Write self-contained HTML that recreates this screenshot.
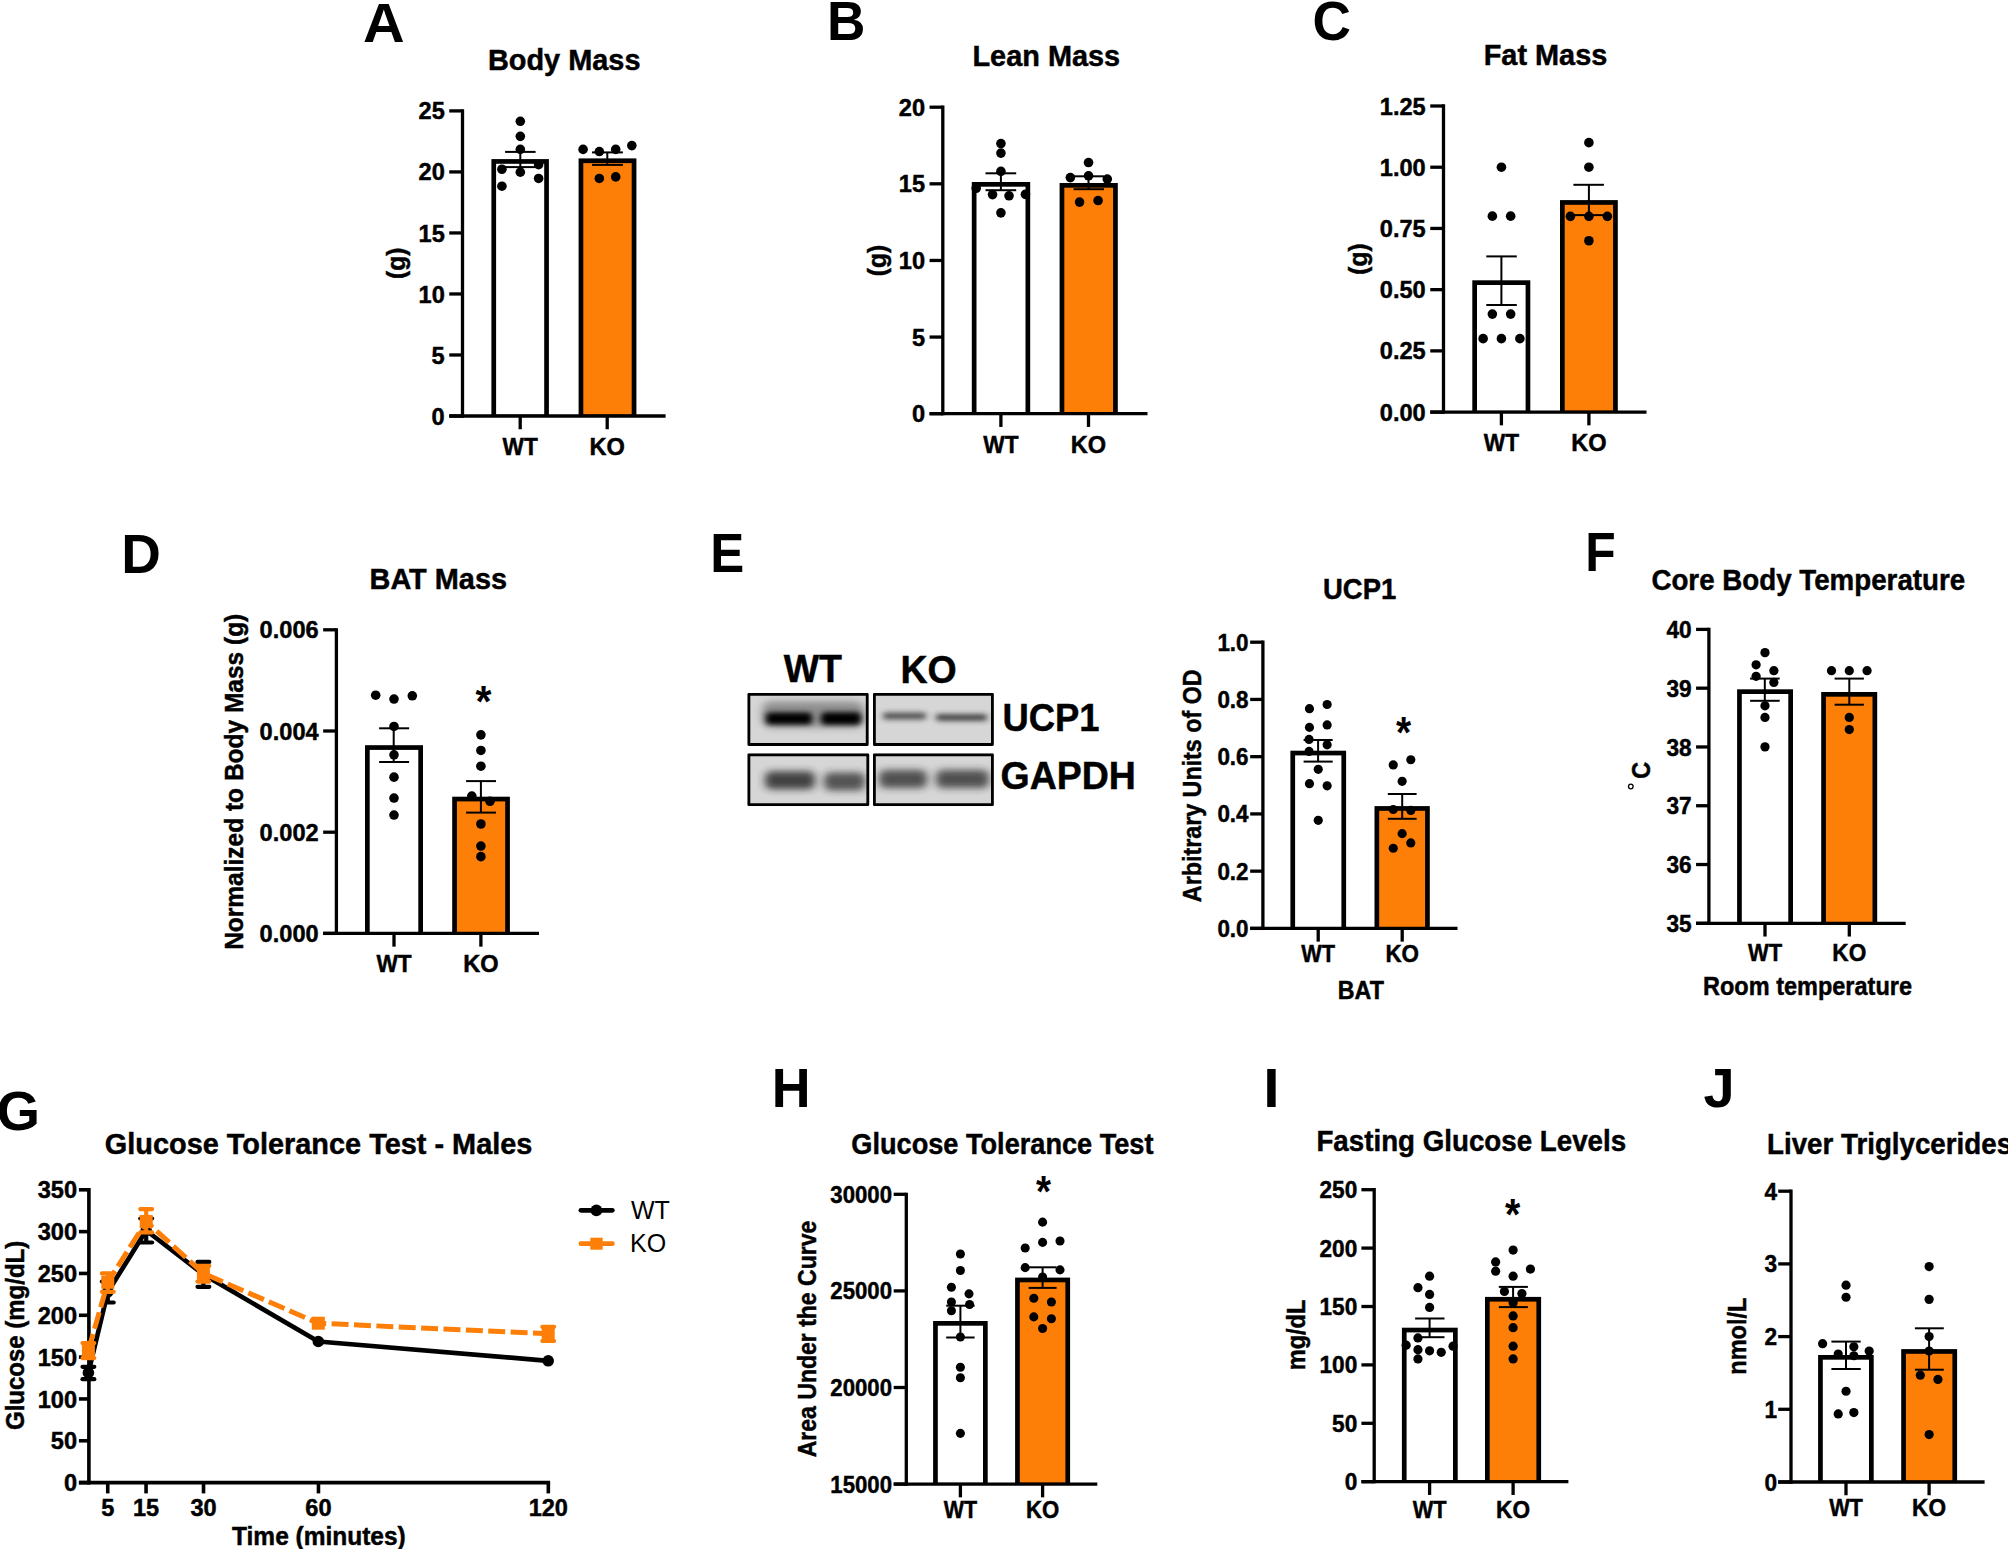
<!DOCTYPE html>
<html lang="en"><head><meta charset="utf-8"><title>Figure</title>
<style>html,body{margin:0;padding:0;background:#fff}svg{display:block}text{font-family:"Liberation Sans", Arial, Helvetica, sans-serif;fill:#000}</style>
</head><body>
<svg width="2008" height="1549" viewBox="0 0 2008 1549">
<rect width="2008" height="1549" fill="#fff"/>
<defs>
<filter id="bl" x="-30%" y="-100%" width="160%" height="300%"><feGaussianBlur stdDeviation="3 2.4"/></filter>
<filter id="bl2" x="-30%" y="-100%" width="160%" height="300%"><feGaussianBlur stdDeviation="2.6 1.5"/></filter>
<filter id="bl3" x="-30%" y="-100%" width="160%" height="300%"><feGaussianBlur stdDeviation="4 3.6"/></filter>
<clipPath id="cp0"><rect x="747.5" y="693" width="121.1" height="52.9"/></clipPath>
<clipPath id="cp1"><rect x="873" y="693" width="120.8" height="52.9"/></clipPath>
<clipPath id="cp2"><rect x="747.5" y="753.4" width="121.7" height="52.7"/></clipPath>
<clipPath id="cp3"><rect x="873" y="753.4" width="120.8" height="52.7"/></clipPath>
</defs>
<g>
<rect x="491.4" y="159.1" width="57.5" height="256.9" fill="#000"/>
<rect x="496.1" y="163.8" width="48.1" height="250.85" fill="#fff"/>
<rect x="578.6" y="158.4" width="57.8" height="257.6" fill="#000"/>
<rect x="583.3" y="163.1" width="48.4" height="251.55" fill="#FD7F08"/>
<line x1="462.5" y1="109.25" x2="462.5" y2="417.65" stroke="#000" stroke-width="3.3" stroke-linecap="butt"/>
<line x1="449.25" y1="416" x2="665.6" y2="416" stroke="#000" stroke-width="3.3" stroke-linecap="butt"/>
<line x1="449.25" y1="110.9" x2="462.5" y2="110.9" stroke="#000" stroke-width="3.3" stroke-linecap="butt"/>
<text transform="translate(444.75 119.47) scale(1 1.04)" font-size="23.6" text-anchor="end" font-weight="bold" stroke="#000" stroke-width="0.45">25</text>
<line x1="449.25" y1="171.92" x2="462.5" y2="171.92" stroke="#000" stroke-width="3.3" stroke-linecap="butt"/>
<text transform="translate(444.75 180.49) scale(1 1.04)" font-size="23.6" text-anchor="end" font-weight="bold" stroke="#000" stroke-width="0.45">20</text>
<line x1="449.25" y1="232.94" x2="462.5" y2="232.94" stroke="#000" stroke-width="3.3" stroke-linecap="butt"/>
<text transform="translate(444.75 241.51) scale(1 1.04)" font-size="23.6" text-anchor="end" font-weight="bold" stroke="#000" stroke-width="0.45">15</text>
<line x1="449.25" y1="293.96" x2="462.5" y2="293.96" stroke="#000" stroke-width="3.3" stroke-linecap="butt"/>
<text transform="translate(444.75 302.53) scale(1 1.04)" font-size="23.6" text-anchor="end" font-weight="bold" stroke="#000" stroke-width="0.45">10</text>
<line x1="449.25" y1="354.98" x2="462.5" y2="354.98" stroke="#000" stroke-width="3.3" stroke-linecap="butt"/>
<text transform="translate(444.75 363.55) scale(1 1.04)" font-size="23.6" text-anchor="end" font-weight="bold" stroke="#000" stroke-width="0.45">5</text>
<line x1="449.25" y1="416" x2="462.5" y2="416" stroke="#000" stroke-width="3.3" stroke-linecap="butt"/>
<text transform="translate(444.75 424.57) scale(1 1.04)" font-size="23.6" text-anchor="end" font-weight="bold" stroke="#000" stroke-width="0.45">0</text>
<line x1="520.2" y1="416" x2="520.2" y2="429.25" stroke="#000" stroke-width="3.3" stroke-linecap="butt"/>
<text transform="translate(520.2 454.8) scale(0.96 1.04)" font-size="23.6" text-anchor="middle" font-weight="bold" stroke="#000" stroke-width="0.45">WT</text>
<line x1="607.2" y1="416" x2="607.2" y2="429.25" stroke="#000" stroke-width="3.3" stroke-linecap="butt"/>
<text transform="translate(607.2 454.8) scale(1 1.04)" font-size="23.6" text-anchor="middle" font-weight="bold" stroke="#000" stroke-width="0.45">KO</text>
<line x1="520.3" y1="151.9" x2="520.3" y2="167.1" stroke="#000" stroke-width="2" stroke-linecap="butt"/>
<line x1="505.1" y1="151.9" x2="535.6" y2="151.9" stroke="#000" stroke-width="2" stroke-linecap="butt"/>
<line x1="505.1" y1="167.1" x2="535.6" y2="167.1" stroke="#000" stroke-width="2" stroke-linecap="butt"/>
<line x1="607.3" y1="152.4" x2="607.3" y2="164.9" stroke="#000" stroke-width="2" stroke-linecap="butt"/>
<line x1="592" y1="152.4" x2="622.9" y2="152.4" stroke="#000" stroke-width="2" stroke-linecap="butt"/>
<line x1="592" y1="164.9" x2="622.9" y2="164.9" stroke="#000" stroke-width="2" stroke-linecap="butt"/>
<circle cx="520.32" cy="121.31" r="4.8" fill="#000"/>
<circle cx="520.32" cy="136.37" r="4.8" fill="#000"/>
<circle cx="520.32" cy="149.4" r="4.8" fill="#000"/>
<circle cx="501.91" cy="169.24" r="4.8" fill="#000"/>
<circle cx="520.32" cy="172.23" r="4.8" fill="#000"/>
<circle cx="538.61" cy="164.7" r="4.8" fill="#000"/>
<circle cx="538.61" cy="178.45" r="4.8" fill="#000"/>
<circle cx="501.91" cy="186.21" r="4.8" fill="#000"/>
<circle cx="583.07" cy="149.4" r="4.8" fill="#000"/>
<circle cx="599.32" cy="151.55" r="4.8" fill="#000"/>
<circle cx="615.7" cy="149.4" r="4.8" fill="#000"/>
<circle cx="631.83" cy="145.58" r="4.8" fill="#000"/>
<circle cx="599.32" cy="178.45" r="4.8" fill="#000"/>
<circle cx="615.7" cy="176.89" r="4.8" fill="#000"/>
<text transform="translate(564.2 69.8) scale(1 1.04)" font-size="28.9" text-anchor="middle" font-weight="bold" stroke="#000" stroke-width="0.45">Body Mass</text>
<text transform="translate(405.3 263.3) rotate(-90) scale(1 1.04)" font-size="24.5" text-anchor="middle" font-weight="bold" stroke="#000" stroke-width="0.45">(g)</text>
<text transform="translate(363.1 42.2) scale(1.03 1)" font-size="56" font-weight="bold">A</text>
</g>
<g>
<rect x="971.8" y="182" width="58.4" height="231.7" fill="#000"/>
<rect x="976.5" y="186.7" width="49" height="225.65" fill="#fff"/>
<rect x="1059.6" y="183" width="58.2" height="230.7" fill="#000"/>
<rect x="1064.3" y="187.7" width="48.8" height="224.65" fill="#FD7F08"/>
<line x1="942.8" y1="105.55" x2="942.8" y2="415.35" stroke="#000" stroke-width="3.3" stroke-linecap="butt"/>
<line x1="929.55" y1="413.7" x2="1147.5" y2="413.7" stroke="#000" stroke-width="3.3" stroke-linecap="butt"/>
<line x1="929.55" y1="107.2" x2="942.8" y2="107.2" stroke="#000" stroke-width="3.3" stroke-linecap="butt"/>
<text transform="translate(925.05 115.77) scale(1 1.04)" font-size="23.6" text-anchor="end" font-weight="bold" stroke="#000" stroke-width="0.45">20</text>
<line x1="929.55" y1="183.82" x2="942.8" y2="183.82" stroke="#000" stroke-width="3.3" stroke-linecap="butt"/>
<text transform="translate(925.05 192.39) scale(1 1.04)" font-size="23.6" text-anchor="end" font-weight="bold" stroke="#000" stroke-width="0.45">15</text>
<line x1="929.55" y1="260.45" x2="942.8" y2="260.45" stroke="#000" stroke-width="3.3" stroke-linecap="butt"/>
<text transform="translate(925.05 269.02) scale(1 1.04)" font-size="23.6" text-anchor="end" font-weight="bold" stroke="#000" stroke-width="0.45">10</text>
<line x1="929.55" y1="337.07" x2="942.8" y2="337.07" stroke="#000" stroke-width="3.3" stroke-linecap="butt"/>
<text transform="translate(925.05 345.64) scale(1 1.04)" font-size="23.6" text-anchor="end" font-weight="bold" stroke="#000" stroke-width="0.45">5</text>
<line x1="929.55" y1="413.7" x2="942.8" y2="413.7" stroke="#000" stroke-width="3.3" stroke-linecap="butt"/>
<text transform="translate(925.05 422.27) scale(1 1.04)" font-size="23.6" text-anchor="end" font-weight="bold" stroke="#000" stroke-width="0.45">0</text>
<line x1="1000.9" y1="413.7" x2="1000.9" y2="426.95" stroke="#000" stroke-width="3.3" stroke-linecap="butt"/>
<text transform="translate(1000.9 452.5) scale(0.96 1.04)" font-size="23.6" text-anchor="middle" font-weight="bold" stroke="#000" stroke-width="0.45">WT</text>
<line x1="1088.5" y1="413.7" x2="1088.5" y2="426.95" stroke="#000" stroke-width="3.3" stroke-linecap="butt"/>
<text transform="translate(1088.5 452.5) scale(1 1.04)" font-size="23.6" text-anchor="middle" font-weight="bold" stroke="#000" stroke-width="0.45">KO</text>
<line x1="1000.9" y1="173.3" x2="1000.9" y2="190.2" stroke="#000" stroke-width="2" stroke-linecap="butt"/>
<line x1="985.5" y1="173.3" x2="1016.2" y2="173.3" stroke="#000" stroke-width="2" stroke-linecap="butt"/>
<line x1="985.5" y1="190.2" x2="1016.2" y2="190.2" stroke="#000" stroke-width="2" stroke-linecap="butt"/>
<line x1="1088.5" y1="176.3" x2="1088.5" y2="189.2" stroke="#000" stroke-width="2" stroke-linecap="butt"/>
<line x1="1073.6" y1="176.3" x2="1104" y2="176.3" stroke="#000" stroke-width="2" stroke-linecap="butt"/>
<line x1="1073.6" y1="189.2" x2="1104" y2="189.2" stroke="#000" stroke-width="2" stroke-linecap="butt"/>
<circle cx="1000.92" cy="143.55" r="4.8" fill="#000"/>
<circle cx="1000.92" cy="153.11" r="4.8" fill="#000"/>
<circle cx="1000.92" cy="171.27" r="4.8" fill="#000"/>
<circle cx="976.18" cy="188.25" r="4.8" fill="#000"/>
<circle cx="992.55" cy="194.58" r="4.8" fill="#000"/>
<circle cx="1009.04" cy="195.78" r="4.8" fill="#000"/>
<circle cx="1025.42" cy="194.34" r="4.8" fill="#000"/>
<circle cx="1000.92" cy="212.87" r="4.8" fill="#000"/>
<circle cx="1070.36" cy="177.61" r="4.8" fill="#000"/>
<circle cx="1088.53" cy="175.82" r="4.8" fill="#000"/>
<circle cx="1107.29" cy="179.04" r="4.8" fill="#000"/>
<circle cx="1088.53" cy="162.55" r="4.8" fill="#000"/>
<circle cx="1079.56" cy="202.11" r="4.8" fill="#000"/>
<circle cx="1098.09" cy="200.56" r="4.8" fill="#000"/>
<text transform="translate(1046.3 65.8) scale(1 1.04)" font-size="28.9" text-anchor="middle" font-weight="bold" stroke="#000" stroke-width="0.45">Lean Mass</text>
<text transform="translate(885.8 260.5) rotate(-90) scale(1 1.04)" font-size="24.5" text-anchor="middle" font-weight="bold" stroke="#000" stroke-width="0.45">(g)</text>
<text transform="translate(826.9 39.8) scale(0.95 1)" font-size="56" font-weight="bold">B</text>
</g>
<g>
<rect x="1472.3" y="280.3" width="58" height="131.8" fill="#000"/>
<rect x="1477" y="285" width="48.6" height="125.75" fill="#fff"/>
<rect x="1560" y="200.1" width="57.8" height="212" fill="#000"/>
<rect x="1564.7" y="204.8" width="48.4" height="205.95" fill="#FD7F08"/>
<line x1="1443.5" y1="104.35" x2="1443.5" y2="413.75" stroke="#000" stroke-width="3.3" stroke-linecap="butt"/>
<line x1="1430.25" y1="412.1" x2="1646.5" y2="412.1" stroke="#000" stroke-width="3.3" stroke-linecap="butt"/>
<line x1="1430.25" y1="106" x2="1443.5" y2="106" stroke="#000" stroke-width="3.3" stroke-linecap="butt"/>
<text transform="translate(1425.75 114.57) scale(1 1.04)" font-size="23.6" text-anchor="end" font-weight="bold" stroke="#000" stroke-width="0.45">1.25</text>
<line x1="1430.25" y1="167.22" x2="1443.5" y2="167.22" stroke="#000" stroke-width="3.3" stroke-linecap="butt"/>
<text transform="translate(1425.75 175.79) scale(1 1.04)" font-size="23.6" text-anchor="end" font-weight="bold" stroke="#000" stroke-width="0.45">1.00</text>
<line x1="1430.25" y1="228.44" x2="1443.5" y2="228.44" stroke="#000" stroke-width="3.3" stroke-linecap="butt"/>
<text transform="translate(1425.75 237.01) scale(1 1.04)" font-size="23.6" text-anchor="end" font-weight="bold" stroke="#000" stroke-width="0.45">0.75</text>
<line x1="1430.25" y1="289.66" x2="1443.5" y2="289.66" stroke="#000" stroke-width="3.3" stroke-linecap="butt"/>
<text transform="translate(1425.75 298.23) scale(1 1.04)" font-size="23.6" text-anchor="end" font-weight="bold" stroke="#000" stroke-width="0.45">0.50</text>
<line x1="1430.25" y1="350.88" x2="1443.5" y2="350.88" stroke="#000" stroke-width="3.3" stroke-linecap="butt"/>
<text transform="translate(1425.75 359.45) scale(1 1.04)" font-size="23.6" text-anchor="end" font-weight="bold" stroke="#000" stroke-width="0.45">0.25</text>
<line x1="1430.25" y1="412.1" x2="1443.5" y2="412.1" stroke="#000" stroke-width="3.3" stroke-linecap="butt"/>
<text transform="translate(1425.75 420.67) scale(1 1.04)" font-size="23.6" text-anchor="end" font-weight="bold" stroke="#000" stroke-width="0.45">0.00</text>
<line x1="1501.4" y1="412.1" x2="1501.4" y2="425.35" stroke="#000" stroke-width="3.3" stroke-linecap="butt"/>
<text transform="translate(1501.4 451) scale(0.96 1.04)" font-size="23.6" text-anchor="middle" font-weight="bold" stroke="#000" stroke-width="0.45">WT</text>
<line x1="1588.9" y1="412.1" x2="1588.9" y2="425.35" stroke="#000" stroke-width="3.3" stroke-linecap="butt"/>
<text transform="translate(1588.9 451) scale(1 1.04)" font-size="23.6" text-anchor="middle" font-weight="bold" stroke="#000" stroke-width="0.45">KO</text>
<line x1="1501.4" y1="256.4" x2="1501.4" y2="305" stroke="#000" stroke-width="2" stroke-linecap="butt"/>
<line x1="1486.3" y1="256.4" x2="1516.8" y2="256.4" stroke="#000" stroke-width="2" stroke-linecap="butt"/>
<line x1="1486.3" y1="305" x2="1516.8" y2="305" stroke="#000" stroke-width="2" stroke-linecap="butt"/>
<line x1="1588.9" y1="184.8" x2="1588.9" y2="215.1" stroke="#000" stroke-width="2" stroke-linecap="butt"/>
<line x1="1573.4" y1="184.8" x2="1603.9" y2="184.8" stroke="#000" stroke-width="2" stroke-linecap="butt"/>
<line x1="1573.4" y1="215.1" x2="1603.9" y2="215.1" stroke="#000" stroke-width="2" stroke-linecap="butt"/>
<circle cx="1501.42" cy="167.2" r="4.8" fill="#000"/>
<circle cx="1492.36" cy="216.17" r="4.8" fill="#000"/>
<circle cx="1510.66" cy="216.17" r="4.8" fill="#000"/>
<circle cx="1492.36" cy="314.1" r="4.8" fill="#000"/>
<circle cx="1510.66" cy="314.1" r="4.8" fill="#000"/>
<circle cx="1483.12" cy="338.67" r="4.8" fill="#000"/>
<circle cx="1501.42" cy="338.67" r="4.8" fill="#000"/>
<circle cx="1519.89" cy="338.67" r="4.8" fill="#000"/>
<circle cx="1588.9" cy="142.63" r="4.8" fill="#000"/>
<circle cx="1588.9" cy="167.2" r="4.8" fill="#000"/>
<circle cx="1570.43" cy="216.34" r="4.8" fill="#000"/>
<circle cx="1588.9" cy="216.34" r="4.8" fill="#000"/>
<circle cx="1607.37" cy="216.34" r="4.8" fill="#000"/>
<circle cx="1588.9" cy="240.74" r="4.8" fill="#000"/>
<text transform="translate(1545.5 65.3) scale(1 1.04)" font-size="28.9" text-anchor="middle" font-weight="bold" stroke="#000" stroke-width="0.45">Fat Mass</text>
<text transform="translate(1367.3 259) rotate(-90) scale(1 1.04)" font-size="24.5" text-anchor="middle" font-weight="bold" stroke="#000" stroke-width="0.45">(g)</text>
<text transform="translate(1312.6 39.7) scale(0.95 1)" font-size="56" font-weight="bold">C</text>
</g>
<g>
<rect x="365" y="745.2" width="58" height="188.2" fill="#000"/>
<rect x="369.7" y="749.9" width="48.6" height="182.15" fill="#fff"/>
<rect x="452.2" y="796.7" width="57.7" height="136.7" fill="#000"/>
<rect x="456.9" y="801.4" width="48.3" height="130.65" fill="#FD7F08"/>
<line x1="336.4" y1="628.15" x2="336.4" y2="935.05" stroke="#000" stroke-width="3.3" stroke-linecap="butt"/>
<line x1="323.15" y1="933.4" x2="539" y2="933.4" stroke="#000" stroke-width="3.3" stroke-linecap="butt"/>
<line x1="323.15" y1="629.8" x2="336.4" y2="629.8" stroke="#000" stroke-width="3.3" stroke-linecap="butt"/>
<text transform="translate(318.65 638.37) scale(1 1.04)" font-size="23.6" text-anchor="end" font-weight="bold" stroke="#000" stroke-width="0.45">0.006</text>
<line x1="323.15" y1="731" x2="336.4" y2="731" stroke="#000" stroke-width="3.3" stroke-linecap="butt"/>
<text transform="translate(318.65 739.57) scale(1 1.04)" font-size="23.6" text-anchor="end" font-weight="bold" stroke="#000" stroke-width="0.45">0.004</text>
<line x1="323.15" y1="832.2" x2="336.4" y2="832.2" stroke="#000" stroke-width="3.3" stroke-linecap="butt"/>
<text transform="translate(318.65 840.77) scale(1 1.04)" font-size="23.6" text-anchor="end" font-weight="bold" stroke="#000" stroke-width="0.45">0.002</text>
<line x1="323.15" y1="933.4" x2="336.4" y2="933.4" stroke="#000" stroke-width="3.3" stroke-linecap="butt"/>
<text transform="translate(318.65 941.97) scale(1 1.04)" font-size="23.6" text-anchor="end" font-weight="bold" stroke="#000" stroke-width="0.45">0.000</text>
<line x1="394" y1="933.4" x2="394" y2="946.65" stroke="#000" stroke-width="3.3" stroke-linecap="butt"/>
<text transform="translate(394 972.3) scale(0.96 1.04)" font-size="23.6" text-anchor="middle" font-weight="bold" stroke="#000" stroke-width="0.45">WT</text>
<line x1="480.9" y1="933.4" x2="480.9" y2="946.65" stroke="#000" stroke-width="3.3" stroke-linecap="butt"/>
<text transform="translate(480.9 972.3) scale(1 1.04)" font-size="23.6" text-anchor="middle" font-weight="bold" stroke="#000" stroke-width="0.45">KO</text>
<line x1="393.7" y1="728.3" x2="393.7" y2="762" stroke="#000" stroke-width="2" stroke-linecap="butt"/>
<line x1="379.1" y1="728.3" x2="409.1" y2="728.3" stroke="#000" stroke-width="2" stroke-linecap="butt"/>
<line x1="379.1" y1="762" x2="409.1" y2="762" stroke="#000" stroke-width="2" stroke-linecap="butt"/>
<line x1="480.9" y1="781.1" x2="480.9" y2="812.6" stroke="#000" stroke-width="2" stroke-linecap="butt"/>
<line x1="466.1" y1="781.1" x2="496" y2="781.1" stroke="#000" stroke-width="2" stroke-linecap="butt"/>
<line x1="466.1" y1="812.6" x2="496" y2="812.6" stroke="#000" stroke-width="2" stroke-linecap="butt"/>
<circle cx="375.69" cy="695.22" r="4.8" fill="#000"/>
<circle cx="394" cy="699.05" r="4.8" fill="#000"/>
<circle cx="412.32" cy="695.78" r="4.8" fill="#000"/>
<circle cx="394" cy="726.46" r="4.8" fill="#000"/>
<circle cx="394" cy="754.86" r="4.8" fill="#000"/>
<circle cx="394" cy="777.15" r="4.8" fill="#000"/>
<circle cx="394" cy="798.02" r="4.8" fill="#000"/>
<circle cx="394" cy="815.06" r="4.8" fill="#000"/>
<circle cx="480.91" cy="734.83" r="4.8" fill="#000"/>
<circle cx="480.91" cy="750.45" r="4.8" fill="#000"/>
<circle cx="480.91" cy="766.22" r="4.8" fill="#000"/>
<circle cx="471.82" cy="796.04" r="4.8" fill="#000"/>
<circle cx="489.99" cy="801.29" r="4.8" fill="#000"/>
<circle cx="480.91" cy="824.01" r="4.8" fill="#000"/>
<circle cx="480.91" cy="846.02" r="4.8" fill="#000"/>
<circle cx="480.91" cy="856.67" r="4.8" fill="#000"/>
<text transform="translate(438.3 589.2) scale(1 1.04)" font-size="28.9" text-anchor="middle" font-weight="bold" stroke="#000" stroke-width="0.45">BAT Mass</text>
<text transform="translate(242.6 781.8) rotate(-90) scale(1 1.04)" font-size="24.5" text-anchor="middle" font-weight="bold" stroke="#000" stroke-width="0.45">Normalized to Body Mass (g)</text>
<text transform="translate(483.5 717.4) scale(1 1.09)" font-size="41" text-anchor="middle" font-weight="bold" font-family='"Liberation Serif", "Times New Roman", serif'>*</text>
<text transform="translate(121.2 573.4) scale(0.98 1)" font-size="56" font-weight="bold">D</text>
</g>
<g>
<rect x="1290.4" y="750.7" width="55.7" height="177.7" fill="#000"/>
<rect x="1295.1" y="755.4" width="46.3" height="171.65" fill="#fff"/>
<rect x="1374.5" y="806.1" width="55.3" height="122.3" fill="#000"/>
<rect x="1379.2" y="810.8" width="45.9" height="116.25" fill="#FD7F08"/>
<line x1="1262.9" y1="640.55" x2="1262.9" y2="930.05" stroke="#000" stroke-width="3.3" stroke-linecap="butt"/>
<line x1="1250.17" y1="928.4" x2="1457.5" y2="928.4" stroke="#000" stroke-width="3.3" stroke-linecap="butt"/>
<line x1="1250.17" y1="642.2" x2="1262.9" y2="642.2" stroke="#000" stroke-width="3.3" stroke-linecap="butt"/>
<text transform="translate(1248.57 650.77) scale(0.95 1.04)" font-size="23.6" text-anchor="end" font-weight="bold" stroke="#000" stroke-width="0.45">1.0</text>
<line x1="1250.17" y1="699.44" x2="1262.9" y2="699.44" stroke="#000" stroke-width="3.3" stroke-linecap="butt"/>
<text transform="translate(1248.57 708.01) scale(0.95 1.04)" font-size="23.6" text-anchor="end" font-weight="bold" stroke="#000" stroke-width="0.45">0.8</text>
<line x1="1250.17" y1="756.68" x2="1262.9" y2="756.68" stroke="#000" stroke-width="3.3" stroke-linecap="butt"/>
<text transform="translate(1248.57 765.25) scale(0.95 1.04)" font-size="23.6" text-anchor="end" font-weight="bold" stroke="#000" stroke-width="0.45">0.6</text>
<line x1="1250.17" y1="813.92" x2="1262.9" y2="813.92" stroke="#000" stroke-width="3.3" stroke-linecap="butt"/>
<text transform="translate(1248.57 822.49) scale(0.95 1.04)" font-size="23.6" text-anchor="end" font-weight="bold" stroke="#000" stroke-width="0.45">0.4</text>
<line x1="1250.17" y1="871.16" x2="1262.9" y2="871.16" stroke="#000" stroke-width="3.3" stroke-linecap="butt"/>
<text transform="translate(1248.57 879.73) scale(0.95 1.04)" font-size="23.6" text-anchor="end" font-weight="bold" stroke="#000" stroke-width="0.45">0.2</text>
<line x1="1250.17" y1="928.4" x2="1262.9" y2="928.4" stroke="#000" stroke-width="3.3" stroke-linecap="butt"/>
<text transform="translate(1248.57 936.97) scale(0.95 1.04)" font-size="23.6" text-anchor="end" font-weight="bold" stroke="#000" stroke-width="0.45">0.0</text>
<line x1="1318.2" y1="928.4" x2="1318.2" y2="941.65" stroke="#000" stroke-width="3.3" stroke-linecap="butt"/>
<text transform="translate(1318.2 961.6) scale(0.92 1.04)" font-size="23.6" text-anchor="middle" font-weight="bold" stroke="#000" stroke-width="0.45">WT</text>
<line x1="1402.2" y1="928.4" x2="1402.2" y2="941.65" stroke="#000" stroke-width="3.3" stroke-linecap="butt"/>
<text transform="translate(1402.2 961.6) scale(0.95 1.04)" font-size="23.6" text-anchor="middle" font-weight="bold" stroke="#000" stroke-width="0.45">KO</text>
<line x1="1318.1" y1="740" x2="1318.1" y2="761.6" stroke="#000" stroke-width="2" stroke-linecap="butt"/>
<line x1="1303.6" y1="740" x2="1332.7" y2="740" stroke="#000" stroke-width="2" stroke-linecap="butt"/>
<line x1="1303.6" y1="761.6" x2="1332.7" y2="761.6" stroke="#000" stroke-width="2" stroke-linecap="butt"/>
<line x1="1402.2" y1="794" x2="1402.2" y2="818.8" stroke="#000" stroke-width="2" stroke-linecap="butt"/>
<line x1="1387.8" y1="794" x2="1416.6" y2="794" stroke="#000" stroke-width="2" stroke-linecap="butt"/>
<line x1="1387.8" y1="818.8" x2="1416.6" y2="818.8" stroke="#000" stroke-width="2" stroke-linecap="butt"/>
<circle cx="1309.46" cy="708.66" r="4.58" fill="#000"/>
<circle cx="1327.14" cy="704.53" r="4.58" fill="#000"/>
<circle cx="1309.46" cy="727.38" r="4.58" fill="#000"/>
<circle cx="1327.14" cy="724.93" r="4.58" fill="#000"/>
<circle cx="1309.07" cy="739.39" r="4.58" fill="#000"/>
<circle cx="1327.14" cy="744.81" r="4.58" fill="#000"/>
<circle cx="1309.07" cy="751.39" r="4.58" fill="#000"/>
<circle cx="1318.24" cy="769.34" r="4.58" fill="#000"/>
<circle cx="1309.46" cy="783.67" r="4.58" fill="#000"/>
<circle cx="1327.14" cy="785.86" r="4.58" fill="#000"/>
<circle cx="1318.24" cy="820.33" r="4.58" fill="#000"/>
<circle cx="1393.24" cy="764.95" r="4.58" fill="#000"/>
<circle cx="1410.8" cy="759.79" r="4.58" fill="#000"/>
<circle cx="1402.15" cy="781.35" r="4.58" fill="#000"/>
<circle cx="1393.24" cy="809.49" r="4.58" fill="#000"/>
<circle cx="1410.8" cy="810.39" r="4.58" fill="#000"/>
<circle cx="1402.15" cy="833.63" r="4.58" fill="#000"/>
<circle cx="1410.8" cy="842.93" r="4.58" fill="#000"/>
<circle cx="1393.24" cy="848.22" r="4.58" fill="#000"/>
<text transform="translate(1359.6 598.6) scale(0.95 1.04)" font-size="28.9" text-anchor="middle" font-weight="bold" stroke="#000" stroke-width="0.45">UCP1</text>
<text transform="translate(1201 785.8) rotate(-90) scale(0.95 1.04)" font-size="24.5" text-anchor="middle" font-weight="bold" stroke="#000" stroke-width="0.45">Arbitrary Units of OD</text>
<text transform="translate(1360.8 999) scale(0.95 1.04)" font-size="24.5" text-anchor="middle" font-weight="bold" stroke="#000" stroke-width="0.45">BAT</text>
<text transform="translate(1403.7 748.2) scale(0.95 1.09)" font-size="41" text-anchor="middle" font-weight="bold" font-family='"Liberation Serif", "Times New Roman", serif'>*</text>
<text transform="translate(710.3 572.2) scale(0.91 1)" font-size="56" font-weight="bold">E</text>
</g>
<g>
<rect x="1737.1" y="689.3" width="55.9" height="234" fill="#000"/>
<rect x="1741.8" y="694" width="46.5" height="227.95" fill="#fff"/>
<rect x="1821.2" y="692" width="56" height="231.3" fill="#000"/>
<rect x="1825.9" y="696.7" width="46.6" height="225.25" fill="#FD7F08"/>
<line x1="1708.9" y1="627.75" x2="1708.9" y2="924.95" stroke="#000" stroke-width="3.3" stroke-linecap="butt"/>
<line x1="1696.06" y1="923.3" x2="1905.7" y2="923.3" stroke="#000" stroke-width="3.3" stroke-linecap="butt"/>
<line x1="1696.06" y1="629.4" x2="1708.9" y2="629.4" stroke="#000" stroke-width="3.3" stroke-linecap="butt"/>
<text transform="translate(1691.66 637.97) scale(0.96 1.04)" font-size="23.6" text-anchor="end" font-weight="bold" stroke="#000" stroke-width="0.45">40</text>
<line x1="1696.06" y1="688.18" x2="1708.9" y2="688.18" stroke="#000" stroke-width="3.3" stroke-linecap="butt"/>
<text transform="translate(1691.66 696.75) scale(0.96 1.04)" font-size="23.6" text-anchor="end" font-weight="bold" stroke="#000" stroke-width="0.45">39</text>
<line x1="1696.06" y1="746.96" x2="1708.9" y2="746.96" stroke="#000" stroke-width="3.3" stroke-linecap="butt"/>
<text transform="translate(1691.66 755.53) scale(0.96 1.04)" font-size="23.6" text-anchor="end" font-weight="bold" stroke="#000" stroke-width="0.45">38</text>
<line x1="1696.06" y1="805.74" x2="1708.9" y2="805.74" stroke="#000" stroke-width="3.3" stroke-linecap="butt"/>
<text transform="translate(1691.66 814.31) scale(0.96 1.04)" font-size="23.6" text-anchor="end" font-weight="bold" stroke="#000" stroke-width="0.45">37</text>
<line x1="1696.06" y1="864.52" x2="1708.9" y2="864.52" stroke="#000" stroke-width="3.3" stroke-linecap="butt"/>
<text transform="translate(1691.66 873.09) scale(0.96 1.04)" font-size="23.6" text-anchor="end" font-weight="bold" stroke="#000" stroke-width="0.45">36</text>
<line x1="1696.06" y1="923.3" x2="1708.9" y2="923.3" stroke="#000" stroke-width="3.3" stroke-linecap="butt"/>
<text transform="translate(1691.66 931.87) scale(0.96 1.04)" font-size="23.6" text-anchor="end" font-weight="bold" stroke="#000" stroke-width="0.45">35</text>
<line x1="1765" y1="923.3" x2="1765" y2="936.55" stroke="#000" stroke-width="3.3" stroke-linecap="butt"/>
<text transform="translate(1765 960.6) scale(0.93 1.04)" font-size="23.6" text-anchor="middle" font-weight="bold" stroke="#000" stroke-width="0.45">WT</text>
<line x1="1849.3" y1="923.3" x2="1849.3" y2="936.55" stroke="#000" stroke-width="3.3" stroke-linecap="butt"/>
<text transform="translate(1849.3 960.6) scale(0.96 1.04)" font-size="23.6" text-anchor="middle" font-weight="bold" stroke="#000" stroke-width="0.45">KO</text>
<line x1="1764.8" y1="678.6" x2="1764.8" y2="700.8" stroke="#000" stroke-width="2" stroke-linecap="butt"/>
<line x1="1750.1" y1="678.6" x2="1779.7" y2="678.6" stroke="#000" stroke-width="2" stroke-linecap="butt"/>
<line x1="1750.1" y1="700.8" x2="1779.7" y2="700.8" stroke="#000" stroke-width="2" stroke-linecap="butt"/>
<line x1="1849.3" y1="678.6" x2="1849.3" y2="704.7" stroke="#000" stroke-width="2" stroke-linecap="butt"/>
<line x1="1834.6" y1="678.6" x2="1863.9" y2="678.6" stroke="#000" stroke-width="2" stroke-linecap="butt"/>
<line x1="1834.6" y1="704.7" x2="1863.9" y2="704.7" stroke="#000" stroke-width="2" stroke-linecap="butt"/>
<circle cx="1764.99" cy="652.63" r="4.63" fill="#000"/>
<circle cx="1756.1" cy="664.76" r="4.63" fill="#000"/>
<circle cx="1773.87" cy="670.72" r="4.63" fill="#000"/>
<circle cx="1756.1" cy="676.26" r="4.63" fill="#000"/>
<circle cx="1773.87" cy="682.44" r="4.63" fill="#000"/>
<circle cx="1764.99" cy="705.76" r="4.63" fill="#000"/>
<circle cx="1764.99" cy="717.47" r="4.63" fill="#000"/>
<circle cx="1764.99" cy="746.86" r="4.63" fill="#000"/>
<circle cx="1831.5" cy="670.72" r="4.63" fill="#000"/>
<circle cx="1849.28" cy="670.72" r="4.63" fill="#000"/>
<circle cx="1867.06" cy="670.72" r="4.63" fill="#000"/>
<circle cx="1849.28" cy="717.47" r="4.63" fill="#000"/>
<circle cx="1849.28" cy="729.6" r="4.63" fill="#000"/>
<text transform="translate(1808.3 590.4) scale(0.96 1.04)" font-size="28.9" text-anchor="middle" font-weight="bold" stroke="#000" stroke-width="0.45">Core Body Temperature</text>
<text transform="translate(1649.8 770.3) rotate(-90) scale(0.96 1.04)" font-size="24.5" text-anchor="middle" font-weight="bold" stroke="#000" stroke-width="0.45">C</text>
<text transform="translate(1807.5 995.1) scale(0.96 1.04)" font-size="24.5" text-anchor="middle" font-weight="bold" stroke="#000" stroke-width="0.45">Room temperature</text>
<text transform="translate(1585.2 571) scale(0.89 1)" font-size="56" font-weight="bold">F</text>
</g>
<g>
<rect x="933.1" y="1321" width="54.6" height="163.1" fill="#000"/>
<rect x="937.8" y="1325.7" width="45.2" height="157.05" fill="#fff"/>
<rect x="1015.1" y="1277.6" width="55" height="206.5" fill="#000"/>
<rect x="1019.8" y="1282.3" width="45.6" height="200.45" fill="#FD7F08"/>
<line x1="906.3" y1="1192.65" x2="906.3" y2="1485.75" stroke="#000" stroke-width="3.3" stroke-linecap="butt"/>
<line x1="893.69" y1="1484.1" x2="1097.3" y2="1484.1" stroke="#000" stroke-width="3.3" stroke-linecap="butt"/>
<line x1="893.69" y1="1194.3" x2="906.3" y2="1194.3" stroke="#000" stroke-width="3.3" stroke-linecap="butt"/>
<text transform="translate(891.99 1202.87) scale(0.94 1.04)" font-size="23.6" text-anchor="end" font-weight="bold" stroke="#000" stroke-width="0.45">30000</text>
<line x1="893.69" y1="1290.9" x2="906.3" y2="1290.9" stroke="#000" stroke-width="3.3" stroke-linecap="butt"/>
<text transform="translate(891.99 1299.47) scale(0.94 1.04)" font-size="23.6" text-anchor="end" font-weight="bold" stroke="#000" stroke-width="0.45">25000</text>
<line x1="893.69" y1="1387.5" x2="906.3" y2="1387.5" stroke="#000" stroke-width="3.3" stroke-linecap="butt"/>
<text transform="translate(891.99 1396.07) scale(0.94 1.04)" font-size="23.6" text-anchor="end" font-weight="bold" stroke="#000" stroke-width="0.45">20000</text>
<line x1="893.69" y1="1484.1" x2="906.3" y2="1484.1" stroke="#000" stroke-width="3.3" stroke-linecap="butt"/>
<text transform="translate(891.99 1492.67) scale(0.94 1.04)" font-size="23.6" text-anchor="end" font-weight="bold" stroke="#000" stroke-width="0.45">15000</text>
<line x1="960.4" y1="1484.1" x2="960.4" y2="1497.35" stroke="#000" stroke-width="3.3" stroke-linecap="butt"/>
<text transform="translate(960.4 1517.9) scale(0.91 1.04)" font-size="23.6" text-anchor="middle" font-weight="bold" stroke="#000" stroke-width="0.45">WT</text>
<line x1="1042.6" y1="1484.1" x2="1042.6" y2="1497.35" stroke="#000" stroke-width="3.3" stroke-linecap="butt"/>
<text transform="translate(1042.6 1517.9) scale(0.94 1.04)" font-size="23.6" text-anchor="middle" font-weight="bold" stroke="#000" stroke-width="0.45">KO</text>
<line x1="960.4" y1="1305.7" x2="960.4" y2="1337.5" stroke="#000" stroke-width="2" stroke-linecap="butt"/>
<line x1="946.2" y1="1305.7" x2="974.6" y2="1305.7" stroke="#000" stroke-width="2" stroke-linecap="butt"/>
<line x1="946.2" y1="1337.5" x2="974.6" y2="1337.5" stroke="#000" stroke-width="2" stroke-linecap="butt"/>
<line x1="1042.6" y1="1267.3" x2="1042.6" y2="1287.9" stroke="#000" stroke-width="2" stroke-linecap="butt"/>
<line x1="1028.6" y1="1267.3" x2="1056.6" y2="1267.3" stroke="#000" stroke-width="2" stroke-linecap="butt"/>
<line x1="1028.6" y1="1287.9" x2="1056.6" y2="1287.9" stroke="#000" stroke-width="2" stroke-linecap="butt"/>
<circle cx="960.4" cy="1253.99" r="4.54" fill="#000"/>
<circle cx="960.4" cy="1270.47" r="4.54" fill="#000"/>
<circle cx="951.41" cy="1287.32" r="4.54" fill="#000"/>
<circle cx="969.01" cy="1293.87" r="4.54" fill="#000"/>
<circle cx="951.41" cy="1301.92" r="4.54" fill="#000"/>
<circle cx="969.57" cy="1304.54" r="4.54" fill="#000"/>
<circle cx="951.41" cy="1310.72" r="4.54" fill="#000"/>
<circle cx="960.4" cy="1336.94" r="4.54" fill="#000"/>
<circle cx="960.4" cy="1367.27" r="4.54" fill="#000"/>
<circle cx="960.4" cy="1377.75" r="4.54" fill="#000"/>
<circle cx="960.4" cy="1433.36" r="4.54" fill="#000"/>
<circle cx="1042.6" cy="1222.16" r="4.54" fill="#000"/>
<circle cx="1042.6" cy="1242.38" r="4.54" fill="#000"/>
<circle cx="1060.01" cy="1241.07" r="4.54" fill="#000"/>
<circle cx="1025.18" cy="1248" r="4.54" fill="#000"/>
<circle cx="1025.18" cy="1267.66" r="4.54" fill="#000"/>
<circle cx="1060.01" cy="1269.91" r="4.54" fill="#000"/>
<circle cx="1042.6" cy="1277.02" r="4.54" fill="#000"/>
<circle cx="1033.8" cy="1298.18" r="4.54" fill="#000"/>
<circle cx="1051.4" cy="1301.92" r="4.54" fill="#000"/>
<circle cx="1033.8" cy="1316.9" r="4.54" fill="#000"/>
<circle cx="1051.4" cy="1318.77" r="4.54" fill="#000"/>
<circle cx="1042.6" cy="1328.51" r="4.54" fill="#000"/>
<text transform="translate(1002.4 1153.8) scale(0.94 1.04)" font-size="28.9" text-anchor="middle" font-weight="bold" stroke="#000" stroke-width="0.45">Glucose Tolerance Test</text>
<text transform="translate(815.6 1339) rotate(-90) scale(0.94 1.04)" font-size="24.5" text-anchor="middle" font-weight="bold" stroke="#000" stroke-width="0.45">Area Under the Curve</text>
<text transform="translate(1043.5 1207.3) scale(0.94 1.09)" font-size="41" text-anchor="middle" font-weight="bold" font-family='"Liberation Serif", "Times New Roman", serif'>*</text>
<text transform="translate(771.8 1106.7) scale(0.96 1)" font-size="56" font-weight="bold">H</text>
</g>
<g>
<rect x="1401.9" y="1327.7" width="55.8" height="154" fill="#000"/>
<rect x="1406.6" y="1332.4" width="46.4" height="147.95" fill="#fff"/>
<rect x="1485" y="1296.9" width="56.1" height="184.8" fill="#000"/>
<rect x="1489.7" y="1301.6" width="46.7" height="178.75" fill="#FD7F08"/>
<line x1="1374.2" y1="1188.05" x2="1374.2" y2="1483.35" stroke="#000" stroke-width="3.3" stroke-linecap="butt"/>
<line x1="1361.41" y1="1481.7" x2="1568.4" y2="1481.7" stroke="#000" stroke-width="3.3" stroke-linecap="butt"/>
<line x1="1361.41" y1="1189.7" x2="1374.2" y2="1189.7" stroke="#000" stroke-width="3.3" stroke-linecap="butt"/>
<text transform="translate(1357.31 1198.27) scale(0.96 1.04)" font-size="23.6" text-anchor="end" font-weight="bold" stroke="#000" stroke-width="0.45">250</text>
<line x1="1361.41" y1="1248.1" x2="1374.2" y2="1248.1" stroke="#000" stroke-width="3.3" stroke-linecap="butt"/>
<text transform="translate(1357.31 1256.67) scale(0.96 1.04)" font-size="23.6" text-anchor="end" font-weight="bold" stroke="#000" stroke-width="0.45">200</text>
<line x1="1361.41" y1="1306.5" x2="1374.2" y2="1306.5" stroke="#000" stroke-width="3.3" stroke-linecap="butt"/>
<text transform="translate(1357.31 1315.07) scale(0.96 1.04)" font-size="23.6" text-anchor="end" font-weight="bold" stroke="#000" stroke-width="0.45">150</text>
<line x1="1361.41" y1="1364.9" x2="1374.2" y2="1364.9" stroke="#000" stroke-width="3.3" stroke-linecap="butt"/>
<text transform="translate(1357.31 1373.47) scale(0.96 1.04)" font-size="23.6" text-anchor="end" font-weight="bold" stroke="#000" stroke-width="0.45">100</text>
<line x1="1361.41" y1="1423.3" x2="1374.2" y2="1423.3" stroke="#000" stroke-width="3.3" stroke-linecap="butt"/>
<text transform="translate(1357.31 1431.87) scale(0.96 1.04)" font-size="23.6" text-anchor="end" font-weight="bold" stroke="#000" stroke-width="0.45">50</text>
<line x1="1361.41" y1="1481.7" x2="1374.2" y2="1481.7" stroke="#000" stroke-width="3.3" stroke-linecap="butt"/>
<text transform="translate(1357.31 1490.27) scale(0.96 1.04)" font-size="23.6" text-anchor="end" font-weight="bold" stroke="#000" stroke-width="0.45">0</text>
<line x1="1429.6" y1="1481.7" x2="1429.6" y2="1494.95" stroke="#000" stroke-width="3.3" stroke-linecap="butt"/>
<text transform="translate(1429.6 1517.9) scale(0.92 1.04)" font-size="23.6" text-anchor="middle" font-weight="bold" stroke="#000" stroke-width="0.45">WT</text>
<line x1="1513.1" y1="1481.7" x2="1513.1" y2="1494.95" stroke="#000" stroke-width="3.3" stroke-linecap="butt"/>
<text transform="translate(1513.1 1517.9) scale(0.96 1.04)" font-size="23.6" text-anchor="middle" font-weight="bold" stroke="#000" stroke-width="0.45">KO</text>
<line x1="1429.6" y1="1318.5" x2="1429.6" y2="1337.2" stroke="#000" stroke-width="2" stroke-linecap="butt"/>
<line x1="1415.1" y1="1318.5" x2="1444.5" y2="1318.5" stroke="#000" stroke-width="2" stroke-linecap="butt"/>
<line x1="1415.1" y1="1337.2" x2="1444.5" y2="1337.2" stroke="#000" stroke-width="2" stroke-linecap="butt"/>
<line x1="1513.1" y1="1286.9" x2="1513.1" y2="1307.1" stroke="#000" stroke-width="2" stroke-linecap="butt"/>
<line x1="1498.8" y1="1286.9" x2="1527.9" y2="1286.9" stroke="#000" stroke-width="2" stroke-linecap="butt"/>
<line x1="1498.8" y1="1307.1" x2="1527.9" y2="1307.1" stroke="#000" stroke-width="2" stroke-linecap="butt"/>
<circle cx="1429.59" cy="1276.15" r="4.61" fill="#000"/>
<circle cx="1417.95" cy="1287.66" r="4.61" fill="#000"/>
<circle cx="1429.59" cy="1294.47" r="4.61" fill="#000"/>
<circle cx="1429.59" cy="1307.4" r="4.61" fill="#000"/>
<circle cx="1417.95" cy="1337.93" r="4.61" fill="#000"/>
<circle cx="1406.16" cy="1345.18" r="4.61" fill="#000"/>
<circle cx="1453.03" cy="1346.17" r="4.61" fill="#000"/>
<circle cx="1417.95" cy="1349.72" r="4.61" fill="#000"/>
<circle cx="1429.59" cy="1350.86" r="4.61" fill="#000"/>
<circle cx="1441.24" cy="1352.28" r="4.61" fill="#000"/>
<circle cx="1417.95" cy="1358.95" r="4.61" fill="#000"/>
<circle cx="1513.11" cy="1250.02" r="4.61" fill="#000"/>
<circle cx="1495.64" cy="1261.95" r="4.61" fill="#000"/>
<circle cx="1495.64" cy="1271.18" r="4.61" fill="#000"/>
<circle cx="1530.43" cy="1269.05" r="4.61" fill="#000"/>
<circle cx="1513.11" cy="1276.15" r="4.61" fill="#000"/>
<circle cx="1504.44" cy="1291.49" r="4.61" fill="#000"/>
<circle cx="1521.91" cy="1293.62" r="4.61" fill="#000"/>
<circle cx="1513.11" cy="1302.85" r="4.61" fill="#000"/>
<circle cx="1513.11" cy="1315.92" r="4.61" fill="#000"/>
<circle cx="1513.11" cy="1327.71" r="4.61" fill="#000"/>
<circle cx="1513.11" cy="1346.17" r="4.61" fill="#000"/>
<circle cx="1513.11" cy="1358.95" r="4.61" fill="#000"/>
<text transform="translate(1471.3 1150.9) scale(0.96 1.04)" font-size="28.9" text-anchor="middle" font-weight="bold" stroke="#000" stroke-width="0.45">Fasting Glucose Levels</text>
<text transform="translate(1305 1335) rotate(-90) scale(0.96 1.04)" font-size="24.5" text-anchor="middle" font-weight="bold" stroke="#000" stroke-width="0.45">mg/dL</text>
<text transform="translate(1512.7 1229.9) scale(0.96 1.09)" font-size="41" text-anchor="middle" font-weight="bold" font-family='"Liberation Serif", "Times New Roman", serif'>*</text>
<text transform="translate(1263.3 1106.7) scale(1.05 1)" font-size="56" font-weight="bold">I</text>
</g>
<g>
<rect x="1818.1" y="1355" width="55.6" height="127" fill="#000"/>
<rect x="1822.8" y="1359.7" width="46.2" height="120.95" fill="#fff"/>
<rect x="1901.2" y="1349.1" width="55.9" height="132.9" fill="#000"/>
<rect x="1905.9" y="1353.8" width="46.5" height="126.85" fill="#FD7F08"/>
<line x1="1791" y1="1189.55" x2="1791" y2="1483.65" stroke="#000" stroke-width="3.3" stroke-linecap="butt"/>
<line x1="1778.21" y1="1482" x2="1984.6" y2="1482" stroke="#000" stroke-width="3.3" stroke-linecap="butt"/>
<line x1="1778.21" y1="1191.2" x2="1791" y2="1191.2" stroke="#000" stroke-width="3.3" stroke-linecap="butt"/>
<text transform="translate(1777.21 1199.77) scale(0.96 1.04)" font-size="23.6" text-anchor="end" font-weight="bold" stroke="#000" stroke-width="0.45">4</text>
<line x1="1778.21" y1="1263.9" x2="1791" y2="1263.9" stroke="#000" stroke-width="3.3" stroke-linecap="butt"/>
<text transform="translate(1777.21 1272.47) scale(0.96 1.04)" font-size="23.6" text-anchor="end" font-weight="bold" stroke="#000" stroke-width="0.45">3</text>
<line x1="1778.21" y1="1336.6" x2="1791" y2="1336.6" stroke="#000" stroke-width="3.3" stroke-linecap="butt"/>
<text transform="translate(1777.21 1345.17) scale(0.96 1.04)" font-size="23.6" text-anchor="end" font-weight="bold" stroke="#000" stroke-width="0.45">2</text>
<line x1="1778.21" y1="1409.3" x2="1791" y2="1409.3" stroke="#000" stroke-width="3.3" stroke-linecap="butt"/>
<text transform="translate(1777.21 1417.87) scale(0.96 1.04)" font-size="23.6" text-anchor="end" font-weight="bold" stroke="#000" stroke-width="0.45">1</text>
<line x1="1778.21" y1="1482" x2="1791" y2="1482" stroke="#000" stroke-width="3.3" stroke-linecap="butt"/>
<text transform="translate(1777.21 1490.57) scale(0.96 1.04)" font-size="23.6" text-anchor="end" font-weight="bold" stroke="#000" stroke-width="0.45">0</text>
<line x1="1846" y1="1482" x2="1846" y2="1495.25" stroke="#000" stroke-width="3.3" stroke-linecap="butt"/>
<text transform="translate(1846 1515.5) scale(0.92 1.04)" font-size="23.6" text-anchor="middle" font-weight="bold" stroke="#000" stroke-width="0.45">WT</text>
<line x1="1929.1" y1="1482" x2="1929.1" y2="1495.25" stroke="#000" stroke-width="3.3" stroke-linecap="butt"/>
<text transform="translate(1929.1 1515.5) scale(0.96 1.04)" font-size="23.6" text-anchor="middle" font-weight="bold" stroke="#000" stroke-width="0.45">KO</text>
<line x1="1846" y1="1341.6" x2="1846" y2="1369" stroke="#000" stroke-width="2" stroke-linecap="butt"/>
<line x1="1831.4" y1="1341.6" x2="1860.7" y2="1341.6" stroke="#000" stroke-width="2" stroke-linecap="butt"/>
<line x1="1831.4" y1="1369" x2="1860.7" y2="1369" stroke="#000" stroke-width="2" stroke-linecap="butt"/>
<line x1="1929.1" y1="1328.3" x2="1929.1" y2="1369.7" stroke="#000" stroke-width="2" stroke-linecap="butt"/>
<line x1="1914.9" y1="1328.3" x2="1943.8" y2="1328.3" stroke="#000" stroke-width="2" stroke-linecap="butt"/>
<line x1="1914.9" y1="1369.7" x2="1943.8" y2="1369.7" stroke="#000" stroke-width="2" stroke-linecap="butt"/>
<circle cx="1846.04" cy="1285.16" r="4.61" fill="#000"/>
<circle cx="1846.04" cy="1297.24" r="4.61" fill="#000"/>
<circle cx="1822.61" cy="1343.68" r="4.61" fill="#000"/>
<circle cx="1853.85" cy="1346.8" r="4.61" fill="#000"/>
<circle cx="1869.19" cy="1351.07" r="4.61" fill="#000"/>
<circle cx="1838.23" cy="1354.05" r="4.61" fill="#000"/>
<circle cx="1853.85" cy="1355.75" r="4.61" fill="#000"/>
<circle cx="1846.04" cy="1391.26" r="4.61" fill="#000"/>
<circle cx="1838.23" cy="1413.98" r="4.61" fill="#000"/>
<circle cx="1853.85" cy="1412.56" r="4.61" fill="#000"/>
<circle cx="1929.13" cy="1266.56" r="4.61" fill="#000"/>
<circle cx="1929.13" cy="1299.37" r="4.61" fill="#000"/>
<circle cx="1929.13" cy="1336.58" r="4.61" fill="#000"/>
<circle cx="1929.13" cy="1351.07" r="4.61" fill="#000"/>
<circle cx="1920.32" cy="1375.21" r="4.61" fill="#000"/>
<circle cx="1937.93" cy="1379.47" r="4.61" fill="#000"/>
<circle cx="1929.13" cy="1434.58" r="4.61" fill="#000"/>
<text transform="translate(1767 1153.8) scale(0.96 1.04)" font-size="28.9" text-anchor="start" font-weight="bold" stroke="#000" stroke-width="0.45">Liver Triglycerides</text>
<text transform="translate(1746 1336.2) rotate(-90) scale(0.96 1.04)" font-size="24.5" text-anchor="middle" font-weight="bold" stroke="#000" stroke-width="0.45">nmol/L</text>
<text transform="translate(1703.6 1106.7) scale(1 1)" font-size="56" font-weight="bold">J</text>
</g>
<circle cx="1630.8" cy="786.5" r="2.3" fill="none" stroke="#000" stroke-width="1.3"/>
<g>
<rect x="747.5" y="693" width="121.1" height="52.9" fill="#d6d6d6"/>
<g clip-path="url(#cp0)">
<rect x="762" y="701.5" width="102" height="26" rx="8.67" fill="#555" opacity="0.55" filter="url(#bl3)"/>
<rect x="766" y="712.4" width="46" height="12" rx="4" fill="#000" opacity="1" filter="url(#bl)"/>
<rect x="821" y="712.15" width="40" height="12.5" rx="4.17" fill="#000" opacity="1" filter="url(#bl)"/>
</g>
<rect x="748.9" y="694.4" width="118.3" height="50.1" fill="none" stroke="#000" stroke-width="2.8" stroke-linejoin="round"/>
</g>
<g>
<rect x="873" y="693" width="120.8" height="52.9" fill="#d6d6d6"/>
<g clip-path="url(#cp1)">
<rect x="883" y="712.6" width="43" height="7" rx="2.33" fill="#222" opacity="0.72" filter="url(#bl)"/>
<rect x="936" y="713.9" width="51" height="7" rx="2.33" fill="#222" opacity="0.78" filter="url(#bl)"/>
</g>
<rect x="874.4" y="694.4" width="118" height="50.1" fill="none" stroke="#000" stroke-width="2.8" stroke-linejoin="round"/>
</g>
<g>
<rect x="747.5" y="753.4" width="121.7" height="52.7" fill="#d6d6d6"/>
<g clip-path="url(#cp2)">
<rect x="765" y="771.2" width="50" height="18" rx="6" fill="#222" opacity="0.82" filter="url(#bl3)"/>
<rect x="824" y="772.5" width="41" height="18" rx="6" fill="#222" opacity="0.72" filter="url(#bl3)"/>
</g>
<rect x="748.9" y="754.8" width="118.9" height="49.9" fill="none" stroke="#000" stroke-width="2.8" stroke-linejoin="round"/>
</g>
<g>
<rect x="873" y="753.4" width="120.8" height="52.7" fill="#d6d6d6"/>
<g clip-path="url(#cp3)">
<rect x="879" y="769.9" width="48" height="18" rx="6" fill="#222" opacity="0.74" filter="url(#bl3)"/>
<rect x="936" y="769.9" width="53" height="18" rx="6" fill="#222" opacity="0.74" filter="url(#bl3)"/>
</g>
<rect x="874.4" y="754.8" width="118" height="49.9" fill="none" stroke="#000" stroke-width="2.8" stroke-linejoin="round"/>
</g>
<text transform="translate(812.8 682.2) scale(1 1.04)" font-size="37.5" text-anchor="middle" font-weight="bold" stroke="#000" stroke-width="0.45">WT</text>
<text transform="translate(928.5 682.7) scale(1 1.04)" font-size="37.5" text-anchor="middle" font-weight="bold" stroke="#000" stroke-width="0.45">KO</text>
<text transform="translate(1002.5 730.8) scale(0.97 1.04)" font-size="37.5" text-anchor="start" font-weight="bold" stroke="#000" stroke-width="0.45">UCP1</text>
<text transform="translate(1000.5 788.5) scale(1 1.04)" font-size="37.5" text-anchor="start" font-weight="bold" stroke="#000" stroke-width="0.45">GAPDH</text>
<g>
<line x1="88.9" y1="1187.99" x2="88.9" y2="1484.4" stroke="#000" stroke-width="3.6" stroke-linecap="butt"/>
<line x1="78.9" y1="1482.6" x2="550.1" y2="1482.6" stroke="#000" stroke-width="3.6" stroke-linecap="butt"/>
<line x1="78.9" y1="1482.6" x2="88.9" y2="1482.6" stroke="#000" stroke-width="3.6" stroke-linecap="butt"/>
<text transform="translate(77.1 1491.17) scale(1 1.04)" font-size="23.6" text-anchor="end" font-weight="bold" stroke="#000" stroke-width="0.45">0</text>
<line x1="78.9" y1="1440.77" x2="88.9" y2="1440.77" stroke="#000" stroke-width="3.6" stroke-linecap="butt"/>
<text transform="translate(77.1 1449.34) scale(1 1.04)" font-size="23.6" text-anchor="end" font-weight="bold" stroke="#000" stroke-width="0.45">50</text>
<line x1="78.9" y1="1398.94" x2="88.9" y2="1398.94" stroke="#000" stroke-width="3.6" stroke-linecap="butt"/>
<text transform="translate(77.1 1407.51) scale(1 1.04)" font-size="23.6" text-anchor="end" font-weight="bold" stroke="#000" stroke-width="0.45">100</text>
<line x1="78.9" y1="1357.11" x2="88.9" y2="1357.11" stroke="#000" stroke-width="3.6" stroke-linecap="butt"/>
<text transform="translate(77.1 1365.68) scale(1 1.04)" font-size="23.6" text-anchor="end" font-weight="bold" stroke="#000" stroke-width="0.45">150</text>
<line x1="78.9" y1="1315.28" x2="88.9" y2="1315.28" stroke="#000" stroke-width="3.6" stroke-linecap="butt"/>
<text transform="translate(77.1 1323.85) scale(1 1.04)" font-size="23.6" text-anchor="end" font-weight="bold" stroke="#000" stroke-width="0.45">200</text>
<line x1="78.9" y1="1273.45" x2="88.9" y2="1273.45" stroke="#000" stroke-width="3.6" stroke-linecap="butt"/>
<text transform="translate(77.1 1282.02) scale(1 1.04)" font-size="23.6" text-anchor="end" font-weight="bold" stroke="#000" stroke-width="0.45">250</text>
<line x1="78.9" y1="1231.62" x2="88.9" y2="1231.62" stroke="#000" stroke-width="3.6" stroke-linecap="butt"/>
<text transform="translate(77.1 1240.19) scale(1 1.04)" font-size="23.6" text-anchor="end" font-weight="bold" stroke="#000" stroke-width="0.45">300</text>
<line x1="78.9" y1="1189.79" x2="88.9" y2="1189.79" stroke="#000" stroke-width="3.6" stroke-linecap="butt"/>
<text transform="translate(77.1 1198.36) scale(1 1.04)" font-size="23.6" text-anchor="end" font-weight="bold" stroke="#000" stroke-width="0.45">350</text>
<line x1="107.75" y1="1482.6" x2="107.75" y2="1493.4" stroke="#000" stroke-width="3.6" stroke-linecap="butt"/>
<text transform="translate(107.75 1516.4) scale(1 1.04)" font-size="23.6" text-anchor="middle" font-weight="bold" stroke="#000" stroke-width="0.45">5</text>
<line x1="146.06" y1="1482.6" x2="146.06" y2="1493.4" stroke="#000" stroke-width="3.6" stroke-linecap="butt"/>
<text transform="translate(146.06 1516.4) scale(1 1.04)" font-size="23.6" text-anchor="middle" font-weight="bold" stroke="#000" stroke-width="0.45">15</text>
<line x1="203.53" y1="1482.6" x2="203.53" y2="1493.4" stroke="#000" stroke-width="3.6" stroke-linecap="butt"/>
<text transform="translate(203.53 1516.4) scale(1 1.04)" font-size="23.6" text-anchor="middle" font-weight="bold" stroke="#000" stroke-width="0.45">30</text>
<line x1="318.46" y1="1482.6" x2="318.46" y2="1493.4" stroke="#000" stroke-width="3.6" stroke-linecap="butt"/>
<text transform="translate(318.46 1516.4) scale(1 1.04)" font-size="23.6" text-anchor="middle" font-weight="bold" stroke="#000" stroke-width="0.45">60</text>
<line x1="548.32" y1="1482.6" x2="548.32" y2="1493.4" stroke="#000" stroke-width="3.6" stroke-linecap="butt"/>
<text transform="translate(548.32 1516.4) scale(1 1.04)" font-size="23.6" text-anchor="middle" font-weight="bold" stroke="#000" stroke-width="0.45">120</text>
<text transform="translate(318.9 1544.6) scale(1 1.04)" font-size="24.5" text-anchor="middle" font-weight="bold" stroke="#000" stroke-width="0.45">Time (minutes)</text>
<text transform="translate(23.5 1335.4) rotate(-90) scale(1 1.04)" font-size="24" text-anchor="middle" font-weight="bold" stroke="#000" stroke-width="0.45">Glucose (mg/dL)</text>
<text transform="translate(318.6 1154.3) scale(1 1.04)" font-size="28.9" text-anchor="middle" font-weight="bold" stroke="#000" stroke-width="0.45">Glucose Tolerance Test - Males</text>
<text transform="translate(-3.5 1129.6) scale(1 1)" font-size="56" font-weight="bold">G</text>
<line x1="88.4" y1="1366.8" x2="88.4" y2="1379.2" stroke="#000" stroke-width="4.2" stroke-linecap="butt"/>
<line x1="82.5" y1="1366.8" x2="94.3" y2="1366.8" stroke="#000" stroke-width="4.2" stroke-linecap="round"/>
<line x1="82.5" y1="1379.2" x2="94.3" y2="1379.2" stroke="#000" stroke-width="4.2" stroke-linecap="round"/>
<line x1="107.8" y1="1281.6" x2="107.8" y2="1302.5" stroke="#000" stroke-width="4.2" stroke-linecap="butt"/>
<line x1="101.9" y1="1281.6" x2="113.7" y2="1281.6" stroke="#000" stroke-width="4.2" stroke-linecap="round"/>
<line x1="101.9" y1="1302.5" x2="113.7" y2="1302.5" stroke="#000" stroke-width="4.2" stroke-linecap="round"/>
<line x1="146.2" y1="1218.5" x2="146.2" y2="1242.5" stroke="#000" stroke-width="4.2" stroke-linecap="butt"/>
<line x1="140.3" y1="1218.5" x2="152.1" y2="1218.5" stroke="#000" stroke-width="4.2" stroke-linecap="round"/>
<line x1="140.3" y1="1242.5" x2="152.1" y2="1242.5" stroke="#000" stroke-width="4.2" stroke-linecap="round"/>
<line x1="203.4" y1="1261.9" x2="203.4" y2="1286.8" stroke="#000" stroke-width="4.2" stroke-linecap="butt"/>
<line x1="197.5" y1="1261.9" x2="209.3" y2="1261.9" stroke="#000" stroke-width="4.2" stroke-linecap="round"/>
<line x1="197.5" y1="1286.8" x2="209.3" y2="1286.8" stroke="#000" stroke-width="4.2" stroke-linecap="round"/>
<polyline points="88.4,1372.7 107.8,1292 146.2,1230.5 203.4,1274.4 318.3,1341.5 548.2,1360.8" fill="none" stroke="#000" stroke-width="4.7" stroke-linejoin="round"/>
<circle cx="88.4" cy="1372.7" r="5.8" fill="#000"/>
<circle cx="107.8" cy="1292" r="5.8" fill="#000"/>
<circle cx="146.2" cy="1230.5" r="5.8" fill="#000"/>
<circle cx="203.4" cy="1274.4" r="5.8" fill="#000"/>
<circle cx="318.3" cy="1341.5" r="5.8" fill="#000"/>
<circle cx="548.2" cy="1360.8" r="5.8" fill="#000"/>
<line x1="88.4" y1="1343.1" x2="88.4" y2="1358.1" stroke="#FD7F08" stroke-width="4.2" stroke-linecap="butt"/>
<line x1="82.5" y1="1343.1" x2="94.3" y2="1343.1" stroke="#FD7F08" stroke-width="4.2" stroke-linecap="round"/>
<line x1="82.5" y1="1358.1" x2="94.3" y2="1358.1" stroke="#FD7F08" stroke-width="4.2" stroke-linecap="round"/>
<line x1="107.8" y1="1273.4" x2="107.8" y2="1291.8" stroke="#FD7F08" stroke-width="4.2" stroke-linecap="butt"/>
<line x1="101.9" y1="1273.4" x2="113.7" y2="1273.4" stroke="#FD7F08" stroke-width="4.2" stroke-linecap="round"/>
<line x1="101.9" y1="1291.8" x2="113.7" y2="1291.8" stroke="#FD7F08" stroke-width="4.2" stroke-linecap="round"/>
<line x1="146.2" y1="1209.1" x2="146.2" y2="1232.3" stroke="#FD7F08" stroke-width="4.2" stroke-linecap="butt"/>
<line x1="140.3" y1="1209.1" x2="152.1" y2="1209.1" stroke="#FD7F08" stroke-width="4.2" stroke-linecap="round"/>
<line x1="140.3" y1="1232.3" x2="152.1" y2="1232.3" stroke="#FD7F08" stroke-width="4.2" stroke-linecap="round"/>
<line x1="203.4" y1="1265.9" x2="203.4" y2="1281.6" stroke="#FD7F08" stroke-width="4.2" stroke-linecap="butt"/>
<line x1="197.5" y1="1265.9" x2="209.3" y2="1265.9" stroke="#FD7F08" stroke-width="4.2" stroke-linecap="round"/>
<line x1="197.5" y1="1281.6" x2="209.3" y2="1281.6" stroke="#FD7F08" stroke-width="4.2" stroke-linecap="round"/>
<line x1="548.2" y1="1326.8" x2="548.2" y2="1341" stroke="#FD7F08" stroke-width="4.2" stroke-linecap="butt"/>
<line x1="542.3" y1="1326.8" x2="554.1" y2="1326.8" stroke="#FD7F08" stroke-width="4.2" stroke-linecap="round"/>
<line x1="542.3" y1="1341" x2="554.1" y2="1341" stroke="#FD7F08" stroke-width="4.2" stroke-linecap="round"/>
<polyline points="88.4,1350.3 107.8,1282.3 146.2,1221.5 203.4,1273.4 318.3,1323.2 548.2,1333.8" fill="none" stroke="#FD7F08" stroke-width="5" stroke-dasharray="17 5.4" stroke-linejoin="round"/>
<rect x="81.9" y="1343.8" width="13" height="13" fill="#FD7F08"/>
<rect x="101.3" y="1275.8" width="13" height="13" fill="#FD7F08"/>
<rect x="139.7" y="1215" width="13" height="13" fill="#FD7F08"/>
<rect x="196.9" y="1266.9" width="13" height="13" fill="#FD7F08"/>
<rect x="311.8" y="1316.7" width="13" height="13" fill="#FD7F08"/>
<rect x="541.7" y="1327.3" width="13" height="13" fill="#FD7F08"/>
<line x1="580.9" y1="1210.3" x2="612.3" y2="1210.3" stroke="#000" stroke-width="4.8" stroke-linecap="round"/>
<circle cx="596.4" cy="1210.3" r="5.9" fill="#000"/>
<line x1="580.9" y1="1243.7" x2="612.3" y2="1243.7" stroke="#FD7F08" stroke-width="4.8" stroke-linecap="round"/>
<rect x="590.3" y="1237.7" width="12.4" height="12" fill="#FD7F08"/>
<text transform="translate(631 1218.8) scale(1 1.04)" font-size="25" text-anchor="start" font-weight="normal">WT</text>
<text transform="translate(630 1252.1) scale(1 1.04)" font-size="25" text-anchor="start" font-weight="normal">KO</text>
</g>
</svg>
</body></html>
